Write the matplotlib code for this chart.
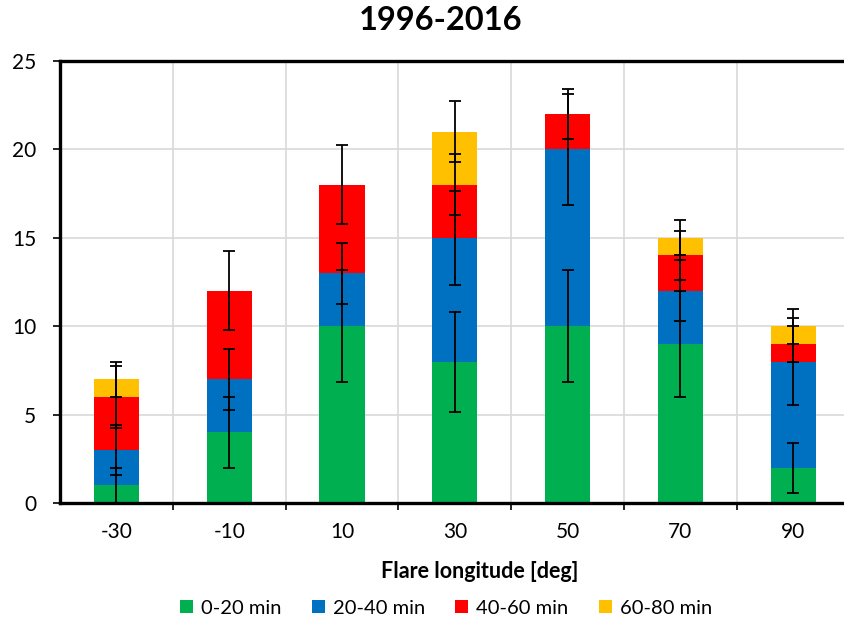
import matplotlib
matplotlib.use("Agg")
import matplotlib.pyplot as plt
import numpy as np

categories = [-30, -10, 10, 30, 50, 70, 90]
series_labels = ["0-20 min", "20-40 min", "40-60 min", "60-80 min"]
colors = ["#00B050", "#0070C0", "#FF0000", "#FFC000"]
s0_20 = [1, 4, 10, 8, 10, 9, 2]
s20_40 = [2, 3, 3, 7, 10, 3, 6]
s40_60 = [3, 5, 5, 3, 2, 2, 1]
s60_80 = [1, 0, 0, 3, 0, 1, 1]
err0_20 = [1.0, 2.0, 3.16, 2.83, 3.16, 3.0, 1.41]
err20_40 = [1.41, 1.73, 1.73, 2.65, 3.16, 1.73, 2.45]
err40_60 = [1.73, 2.24, 2.24, 1.73, 1.41, 1.41, 1.0]
err60_80 = [1.0, 0, 0, 1.73, 0, 1.0, 1.0]

series = [s0_20, s20_40, s40_60, s60_80]
errs = [err0_20, err20_40, err40_60, err60_80]

plt.rcParams['font.family'] = ['Lato', 'DejaVu Sans']
fig = plt.figure(figsize=(8.44, 6.23), dpi=100)
ax = fig.add_axes([60/844, 1-503/623, 1-60/844, (503-61)/623])

x = np.array(categories, dtype=float)
bottom = np.zeros(len(x))
for vals, col, lab in zip(series, colors, series_labels):
    v = np.array(vals, dtype=float)
    ax.bar(x, v, width=8, bottom=bottom, color=col, label=lab, zorder=2)
    bottom = bottom + v

bottom = np.zeros(len(x))
for vals, e in zip(series, errs):
    v = np.array(vals, dtype=float)
    top = bottom + v
    mask = v > 0
    ax.errorbar(x[mask], top[mask], yerr=np.array(e)[mask], fmt='none',
                ecolor='black', elinewidth=1.3, capsize=4.3, capthick=1.3, zorder=3)
    bottom = top

ax.set_xlim(-40, 99)
ax.set_ylim(0, 25)
ax.set_yticks([0, 5, 10, 15, 20, 25])
ax.set_xticks([-20, 0, 20, 40, 60, 80])
ax.set_xticklabels([])
ax.set_xticks(categories, minor=True)
ax.set_xticklabels([str(c) for c in categories], minor=True)
ax.tick_params(axis='x', which='minor', length=0, labelsize=15, pad=14)
ax.tick_params(axis='x', which='major', length=5, width=1.2, direction='out')
ax.tick_params(axis='y', length=5, width=1.2, labelsize=15, pad=12)
ax.grid(True, which='major', color='#D9D9D9', linewidth=1.2, zorder=0)
ax.set_axisbelow(True)
for s in ['left', 'top', 'bottom']:
    ax.spines[s].set_linewidth(2.4)
    ax.spines[s].set_color('black')
ax.spines['right'].set_visible(False)

fig.text(480/844, 1-572/623, "Flare longitude [deg]", ha='center', va='center',
         fontsize=15.5, fontweight='bold')
fig.text(441/844, 1-20/623, "1996-2016", ha='center', va='center', fontsize=23.5, fontweight='bold')

handles, labels = ax.get_legend_handles_labels()
fig.legend(handles, labels, loc='center', bbox_to_anchor=(446/844, 1-608/623), ncol=4,
           frameon=False, fontsize=14.5, handlelength=0.65, handleheight=0.65,
           handletextpad=0.4, columnspacing=1.5)

fig.savefig("out.png", dpi=100)
